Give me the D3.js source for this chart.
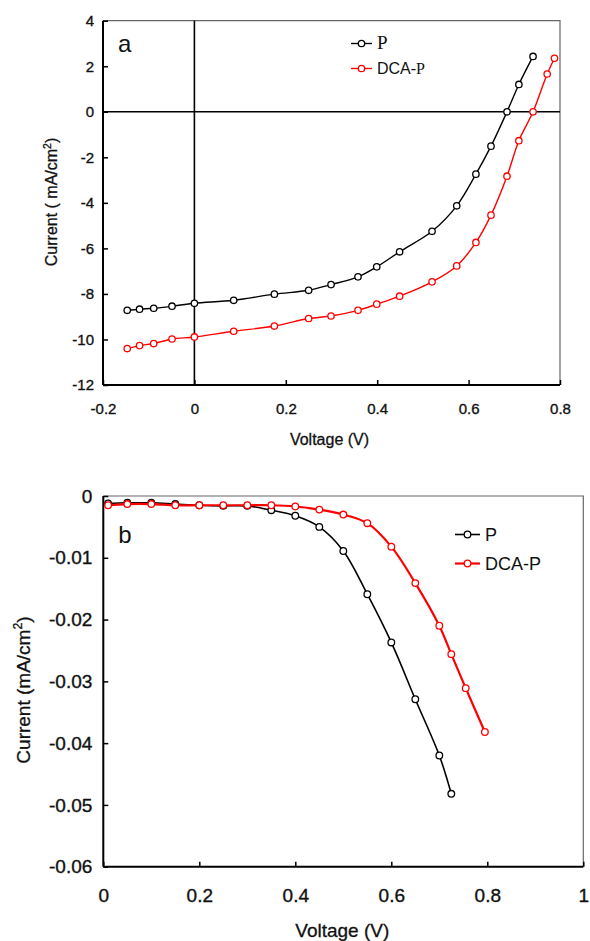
<!DOCTYPE html>
<html>
<head>
<meta charset="utf-8">
<script src="https://cdn.jsdelivr.net/npm/d3@7"></script>
<style>
  body { margin: 0; background: #fff; }
  svg { display: block; font-family: "Liberation Sans", Arial, sans-serif; }
</style>
</head>
<body>
<div id="chart"></div>
<script>
// panel a: J-V under illumination
const voltageA_P = [-0.147, -0.12, -0.089, -0.049, 0, 0.086, 0.175, 0.25, 0.299, 0.358, 0.399, 0.449, 0.52, 0.574, 0.616, 0.649, 0.684, 0.71, 0.741];
const currentA_P = [-8.72, -8.67, -8.63, -8.54, -8.41, -8.28, -8.01, -7.84, -7.59, -7.25, -6.81, -6.15, -5.25, -4.13, -2.74, -1.51, 0, 1.2, 2.43];
const voltageA_DCA = [-0.147, -0.12, -0.089, -0.049, 0, 0.086, 0.175, 0.25, 0.299, 0.358, 0.399, 0.449, 0.52, 0.574, 0.616, 0.649, 0.684, 0.71, 0.741, 0.772, 0.788];
const currentA_DCA = [-10.4, -10.27, -10.18, -9.98, -9.89, -9.64, -9.41, -9.08, -8.97, -8.72, -8.45, -8.1, -7.47, -6.77, -5.74, -4.54, -2.83, -1.27, 0, 1.66, 2.35];
const ticksA_x = [-0.2, 0, 0.2, 0.4, 0.6, 0.8];
const ticksA_y = [4, 2, 0, -2, -4, -6, -8, -10, -12];

// panel b: dark current
const voltageB_P = [0.01, 0.05, 0.1, 0.15, 0.2, 0.25, 0.3, 0.35, 0.4, 0.45, 0.5, 0.55, 0.6, 0.65, 0.7, 0.725];
const currentB_P = [-0.0012, -0.0011, -0.0011, -0.0013, -0.0015, -0.0016, -0.0016, -0.0023, -0.0032, -0.005, -0.0089, -0.0159, -0.0237, -0.0329, -0.042, -0.0482];
const voltageB_DCA = [0.01, 0.05, 0.1, 0.15, 0.2, 0.25, 0.3, 0.35, 0.4, 0.45, 0.5, 0.55, 0.6, 0.65, 0.7, 0.725, 0.755, 0.795];
const currentB_DCA = [-0.0015, -0.0013, -0.0013, -0.0015, -0.0015, -0.0015, -0.0015, -0.0015, -0.0017, -0.0022, -0.003, -0.0044, -0.0082, -0.0141, -0.021, -0.0256, -0.0311, -0.0382];
const ticksB_x = [0, 0.2, 0.4, 0.6, 0.8, 1];
const ticksB_y = [0, -0.01, -0.02, -0.03, -0.04, -0.05, -0.06];

const seriesNames = ["P", "DCA-P"];
const seriesColors = ["#000", "#ff0000"];

const svg = d3.select("#chart").append("svg")
    .attr("width", 590)
    .attr("height", 941);

function zip(xs, ys) {
    return xs.map((x, i) => ({x: x, y: ys[i]}));
}

// plain hyphen minus like the original, not the unicode minus
const plainFmt = d => String(+d.toFixed(4));

function drawPanel(opt) {
    const g = svg.append("g");
    const x = d3.scaleLinear().domain(opt.xDomain).range([opt.left, opt.right]);
    const y = d3.scaleLinear().domain(opt.yDomain).range([opt.bottom, opt.top]);

    // frame top/right
    g.append("path")
        .attr("d", `M${opt.left},${opt.top}H${opt.right}V${opt.bottom}`)
        .attr("fill", "none")
        .attr("stroke", "#666")
        .attr("stroke-width", 1.2);

    // axes, ticks inside
    const xAxis = g.append("g")
        .attr("transform", `translate(0,${opt.bottom})`)
        .call(d3.axisBottom(x).tickValues(opt.xTicks).tickSize(-5).tickPadding(opt.xPad).tickFormat(plainFmt));
    const yAxis = g.append("g")
        .attr("transform", `translate(${opt.left},0)`)
        .call(d3.axisLeft(y).tickValues(opt.yTicks).tickSize(-5).tickPadding(opt.yPad).tickFormat(plainFmt));
    [xAxis, yAxis].forEach(a => {
        a.select(".domain").attr("stroke", "#000").attr("stroke-width", 2);
        a.selectAll(".tick line").attr("stroke", "#000").attr("stroke-width", 1.5);
        a.selectAll(".tick text")
            .attr("fill", "#111")
            .attr("stroke", "#111")
            .attr("stroke-width", 0.35)
            .style("font-size", opt.tickFont + "px")
            .style("font-family", "'Liberation Sans', Arial, sans-serif");
    });
    xAxis.select(".domain").attr("d", `M${opt.left},0H${opt.right}`);
    yAxis.select(".domain").attr("d", `M0,${opt.bottom}V${opt.top}`);

    if (opt.zeroLines) {
        g.append("line")
            .attr("x1", x(opt.xDomain[0])).attr("x2", x(opt.xDomain[1]))
            .attr("y1", y(0)).attr("y2", y(0))
            .attr("stroke", "#000").attr("stroke-width", 1.6);
        g.append("line")
            .attr("x1", x(0)).attr("x2", x(0))
            .attr("y1", y(opt.yDomain[0])).attr("y2", y(opt.yDomain[1]))
            .attr("stroke", "#000").attr("stroke-width", 1.6);
    }

    const line = d3.line()
        .x(d => x(d.x))
        .y(d => y(d.y))
        .curve(d3.curveCatmullRom.alpha(0.5));

    opt.series.forEach((s, i) => {
        g.append("path")
            .datum(s)
            .attr("fill", "none")
            .attr("stroke", seriesColors[i])
            .attr("stroke-width", opt.lineWidth[i])
            .attr("d", line);
        g.selectAll(null)
            .data(s)
            .enter().append("circle")
            .attr("cx", d => x(d.x))
            .attr("cy", d => y(d.y))
            .attr("r", opt.markerR)
            .attr("fill", "#fff")
            .attr("stroke", seriesColors[i])
            .attr("stroke-width", 1.3);
    });

    // panel letter
    g.append("text")
        .attr("x", opt.left + 15)
        .attr("y", opt.letterY)
        .style("font-size", "24px")
        .attr("fill", "#111")
        .text(opt.letter);

    // axis titles
    g.append("text")
        .attr("x", (opt.left + opt.right) / 2 + opt.xTitleShift)
        .attr("y", opt.xTitleY)
        .attr("text-anchor", "middle")
        .style("font-size", opt.titleFont + "px")
        .attr("fill", "#111")
        .attr("stroke", "#111")
        .attr("stroke-width", 0.3)
        .text("Voltage (V)");

    const yt = g.append("text")
        .attr("transform", `translate(${opt.yTitleX},${opt.yTitleY}) rotate(-90)`)
        .attr("text-anchor", "middle")
        .style("font-size", opt.titleFont + "px")
        .attr("fill", "#111")
        .attr("stroke", "#111")
        .attr("stroke-width", 0.3);
    yt.append("tspan").text(opt.yTitle);
    yt.append("tspan").attr("dy", -opt.titleFont * 0.4).style("font-size", (opt.titleFont * 0.65) + "px").text("2");
    yt.append("tspan").attr("dy", opt.titleFont * 0.4).text(")");

    // legend
    seriesNames.forEach((name, i) => {
        const ly = opt.legendY + i * opt.legendGap;
        g.append("line")
            .attr("x1", opt.legendX).attr("x2", opt.legendX + opt.legendLen)
            .attr("y1", ly).attr("y2", ly)
            .attr("stroke", seriesColors[i]).attr("stroke-width", opt.lineWidth[i]);
        g.append("circle")
            .attr("cx", opt.legendX + opt.legendLen / 2).attr("cy", ly)
            .attr("r", opt.markerR)
            .attr("fill", "#fff").attr("stroke", seriesColors[i]).attr("stroke-width", 1.3);
        const t = g.append("text")
            .attr("x", opt.legendX + opt.legendLen + 5)
            .attr("y", ly + opt.legendFont * 0.36)
            .style("font-size", opt.legendFont + "px")
            .attr("fill", "#111");
        if (opt.serifP) {
            const parts = name.split("-");
            if (parts.length > 1) {
                t.append("tspan").text(parts[0]);
                t.append("tspan").style("font-family", "'Liberation Serif', serif").text("-" + parts[1]);
            } else {
                t.append("tspan").style("font-family", "'Liberation Serif', serif").style("font-size", (opt.legendFont + 3) + "px").text(name);
            }
        } else {
            t.text(name);
        }
    });
}

drawPanel({
    xDomain: [-0.2, 0.8], yDomain: [-12, 4],
    left: 103, right: 560, top: 20.7, bottom: 385,
    xTicks: ticksA_x, yTicks: ticksA_y,
    xPad: 18, yPad: 9, tickFont: 15, titleFont: 16,
    zeroLines: true,
    series: [zip(voltageA_P, currentA_P), zip(voltageA_DCA, currentA_DCA)],
    lineWidth: [1.4, 1.4], markerR: 3.2,
    letter: "a", letterY: 52,
    xTitleShift: -2, xTitleY: 445,
    yTitle: "Current ( mA/cm", yTitleX: 57, yTitleY: 202,
    legendX: 351, legendY: 43.5, legendGap: 25, legendLen: 21, legendFont: 16, serifP: true
});

drawPanel({
    xDomain: [0, 1], yDomain: [-0.06, 0],
    left: 103.3, right: 583.3, top: 496, bottom: 866.7,
    xTicks: ticksB_x, yTicks: ticksB_y,
    xPad: 22, yPad: 11, tickFont: 19, titleFont: 19,
    zeroLines: false,
    series: [zip(voltageB_P, currentB_P), zip(voltageB_DCA, currentB_DCA)],
    lineWidth: [1.6, 2.2], markerR: 3.3,
    letter: "b", letterY: 543,
    xTitleShift: -1, xTitleY: 937,
    yTitle: "Current (mA/cm", yTitleX: 30, yTitleY: 690,
    legendX: 455, legendY: 534.5, legendGap: 29, legendLen: 25, legendFont: 18, serifP: false
});
</script>
</body>
</html>
